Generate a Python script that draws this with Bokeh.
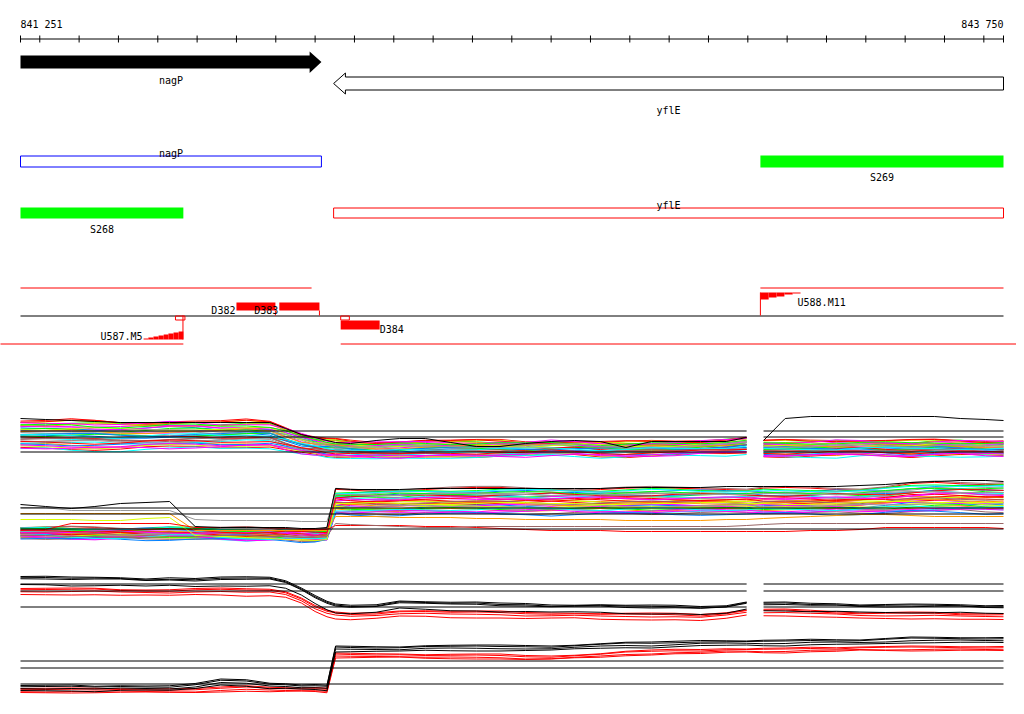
from bokeh.plotting import figure
from bokeh.models import Range1d
from bokeh.core.properties import value
from bokeh.embed import file_html
from bokeh.resources import INLINE

FONT = value("DejaVu Sans Mono")
FS = "10px"

# ---------------- data ----------------
SEQ_START, SEQ_END = 841251, 843750
RULER_TICKS = [841300 + 100 * i for i in range(25)]
RULER_LABELS = ["841 251", "843 750"]

GENE_NAMES = ["nagP", "yflE"]
GENE_START = [841251, 842047]
GENE_END = [842016, 843750]
GENE_STRAND = [1, -1]

BOX_NAMES = ["nagP", "S269", "S268", "yflE"]
BOX_START = [841251, 843132, 841251, 842047]
BOX_END = [842016, 843750, 841665, 843750]

SPAN_A_START = [841251, 843132]     # red line above the strand line
SPAN_A_END = [841991, 843750]
SPAN_B_START = [841150, 842065]     # red line below
SPAN_B_END = [841665, 843900]

D_NAMES = ["D382", "D383", "D384"]
D_START = [841800, 841909, 842065]
D_END = [841899, 842011, 842164]
D_STRAND = [1, 1, -1]

U_NAMES = ["U587.M5", "U588.M11"]
U587_STEP_X = [841564, 841576, 841589, 841602, 841615, 841627, 841640, 841653, 841665]
U587_STEP_H = [1, 2, 3, 4, 5, 6, 7, 8]
U588_STEP_X = [843132, 843153, 843173, 843193, 843214, 843234]
U588_STEP_H = [7, 5, 4, 2, 1]

PROBE_X = [841251, 841315, 841380, 841440, 841505, 841570, 841630, 841695, 841760, 841825,
           841885, 841925, 841965, 842000, 842030, 842052, 842090, 842155, 842215, 842280,
           842345, 842410, 842470, 842535, 842600, 842660, 842725, 842790, 842855, 842915,
           842980, 843045, 843097, 843140, 843195, 843260, 843325, 843385, 843450, 843515,
           843575, 843640, 843705, 843750]
GAP_START, GAP_END = 843097, 843140

# panel 1 (colored samples)
TOP1 = [4.0, 4.0, 4.1, 4.0, 3.9, 3.9, 4.0, 4.0, 3.9, 4.0, 3.9, 3.4, 2.8, 2.4, 2.2, 2.1, 2.0, 1.9, 2.0, 2.1,
        2.0, 2.0, 2.0, 1.9, 2.0, 2.0, 1.9, 1.9, 1.9, 1.9, 2.0, 2.2, 2.4, 2.0, 2.0, 2.0, 2.1, 2.1, 2.0, 2.0,
        2.1, 2.1, 2.0, 2.0]
BOT1 = [1.0, 1.0, 0.9, 0.9, 0.9, 1.0, 1.0, 1.1, 1.1, 1.2, 1.2, 0.8, 0.5, 0.4, 0.3, 0.3, 0.2, 0.1, 0.1, 0.2,
        0.3, 0.3, 0.3, 0.3, 0.4, 0.4, 0.3, 0.3, 0.4, 0.4, 0.5, 0.5, 0.6, 0.3, 0.3, 0.3, 0.3, 0.4, 0.4, 0.3,
        0.4, 0.4, 0.3, 0.3]
P1_BLACK = [4.2, 4.1, 4.0, 3.9, 3.8, 3.8, 3.8, 3.8, 3.8, 3.8, 3.8, 3.2, 2.6, 2.3, 2.0, 1.8, 1.7, 2.0, 2.2, 2.2,
            1.8, 1.4, 1.4, 1.7, 1.9, 2.0, 1.9, 1.3, 1.9, 1.9, 1.9, 1.9, 2.3, 2.0, 4.2, 4.4, 4.4, 4.4, 4.4, 4.4,
            4.4, 4.2, 4.1, 4.0]
REF1 = [2.95, 2.35, 0.85]

# panel 2 (colored samples)
TOP2 = [1.8, 1.8, 1.8, 1.8, 1.8, 1.8, 1.8, 1.8, 1.7, 1.7, 1.7, 1.7, 1.6, 1.6, 1.7, 5.6, 5.6, 5.6, 5.7, 5.8,
        5.8, 5.8, 5.8, 5.8, 5.8, 5.8, 5.8, 5.8, 5.8, 5.8, 5.8, 5.8, 5.8, 5.8, 5.8, 5.8, 5.8, 5.8, 5.9, 6.2,
        6.4, 6.4, 6.3, 6.3]
BOT2 = [0.7, 0.7, 0.6, 0.6, 0.6, 0.6, 0.7, 0.7, 0.6, 0.5, 0.5, 0.5, 0.4, 0.4, 0.5, 3.1, 3.0, 3.0, 3.0, 3.1,
        3.1, 3.1, 3.1, 3.1, 3.1, 3.1, 3.1, 3.1, 3.1, 3.1, 3.1, 3.1, 3.1, 3.1, 3.1, 3.1, 3.1, 3.1, 3.2, 3.3,
        3.3, 3.3, 3.2, 3.2]
P2_BLACK = [4.1, 3.9, 3.7, 3.9, 4.2, 4.3, 4.4, 1.9, 1.8, 1.8, 1.8, 1.8, 1.7, 1.7, 1.8, 5.7, 5.6, 5.6, 5.6, 5.7,
            5.7, 5.7, 5.7, 5.7, 5.7, 5.7, 5.7, 5.8, 5.8, 5.8, 5.8, 5.9, 5.9, 5.9, 5.9, 5.9, 5.9, 6.0, 6.1, 6.3,
            6.4, 6.5, 6.5, 6.4]
P2_GRAY = [3.8, 3.8, 3.5, 3.5, 3.5, 3.5, 3.5, 2.6, 2.5, 2.5, 2.5, 2.5, 2.4, 2.4, 2.4, 5.1, 5.1, 5.0, 5.0, 5.1,
           5.2, 5.2, 5.1, 5.1, 5.0, 5.0, 5.1, 5.1, 5.2, 5.2, 5.1, 5.1, 5.1, 5.2, 5.2, 5.1, 5.1, 5.2, 5.3, 5.4,
           5.4, 5.3, 5.3, 5.3]
P2_ORANGE = [3.2, 3.2, 3.2, 3.2, 3.2, 3.2, 3.2, 1.5, 1.5, 1.5, 1.5, 1.5, 1.5, 1.5, 1.5, 2.9, 2.9, 2.9, 2.8, 2.8,
             2.8, 2.7, 2.7, 2.6, 2.6, 2.6, 2.6, 2.5, 2.5, 2.5, 2.5, 2.6, 2.6, 2.7, 2.8, 2.9, 3.0, 3.1, 3.1, 3.0,
             2.9, 2.9, 2.9, 2.9]
P2_YELLOW = [2.6, 2.6, 2.6, 2.5, 2.5, 2.7, 2.8, 1.0, 0.9, 0.8, 0.7, 0.6, 0.6, 0.5, 0.6, 4.2, 4.2, 4.3, 4.2, 4.1,
             4.1, 4.2, 4.3, 4.3, 4.2, 4.2, 4.1, 4.1, 4.2, 4.2, 4.3, 4.3, 4.2, 4.2, 4.1, 4.1, 4.2, 4.3, 4.4, 4.4,
             4.3, 4.3, 4.3, 4.3]
P2_RED = [1.5, 1.6, 2.2, 2.2, 2.2, 2.2, 2.2, 1.8, 1.8, 1.8, 1.8, 1.7, 1.6, 1.6, 1.6, 2.0, 2.0, 2.0, 2.0, 1.9,
          1.9, 1.8, 1.7, 1.6, 1.5, 1.5, 1.5, 1.4, 1.4, 1.4, 1.4, 1.4, 1.4, 1.4, 1.4, 1.5, 1.5, 1.6, 1.8, 1.8,
          1.8, 1.8, 1.8, 1.7]
P2_BROWN = [1.0, 1.0, 0.9, 0.9, 0.8, 0.8, 0.9, 0.9, 1.0, 1.0, 0.9, 0.9, 0.8, 0.8, 0.9, 2.2, 2.1, 2.0, 1.9, 1.8,
            1.8, 1.9, 1.9, 1.9, 1.9, 1.9, 1.9, 1.9, 1.9, 1.9, 1.9, 1.9, 2.0, 2.1, 2.2, 2.2, 2.2, 2.2, 2.2, 2.2,
            2.2, 2.2, 2.2, 2.2]
REF2 = [3.75, 3.15, 1.65]

# panel 3 (black / red)
B3 = [4.8, 4.8, 4.7, 4.7, 4.7, 4.6, 4.7, 4.6, 4.7, 4.7, 4.7, 4.4, 3.7, 2.9, 2.3, 2.0, 1.9, 2.0, 2.4, 2.3,
      2.2, 2.2, 2.1, 2.1, 2.0, 2.0, 2.0, 1.9, 1.9, 1.9, 1.8, 1.9, 2.3, 2.2, 2.2, 2.1, 2.1, 2.0, 2.0, 2.0,
      2.0, 2.0, 1.9, 1.9]
R3 = [3.6, 3.6, 3.6, 3.6, 3.5, 3.5, 3.5, 3.6, 3.6, 3.5, 3.5, 3.3, 2.7, 1.9, 1.4, 1.2, 1.1, 1.2, 1.4, 1.4,
      1.3, 1.3, 1.3, 1.2, 1.2, 1.2, 1.1, 1.1, 1.1, 1.1, 1.0, 1.2, 1.5, 1.5, 1.5, 1.4, 1.3, 1.2, 1.2, 1.2,
      1.2, 1.1, 1.1, 1.1]
P3_BLACK_OFFSETS = [0.1, 0.0, -0.1, -0.7]
P3_RED_OFFSETS = [0.1, 0.0, -0.2, -0.5]
REF3 = [4.15, 3.45, 1.85]

# panel 4 (black / red)
B4 = [0.9, 0.9, 0.9, 0.8, 0.9, 0.9, 0.9, 1.1, 1.5, 1.4, 1.1, 1.1, 1.0, 1.0, 0.9, 4.8, 4.8, 4.8, 4.8, 4.9,
      4.9, 4.9, 4.9, 4.9, 4.9, 5.0, 5.1, 5.2, 5.2, 5.3, 5.4, 5.4, 5.4, 5.4, 5.4, 5.5, 5.5, 5.5, 5.6, 5.7,
      5.7, 5.7, 5.7, 5.7]
R4 = [0.6, 0.6, 0.6, 0.6, 0.6, 0.6, 0.6, 0.6, 0.7, 0.8, 0.7, 0.7, 0.7, 0.7, 0.6, 4.1, 4.1, 4.1, 4.1, 4.0,
      4.0, 4.0, 4.0, 3.9, 3.9, 4.0, 4.1, 4.3, 4.4, 4.5, 4.5, 4.6, 4.6, 4.6, 4.6, 4.7, 4.7, 4.8, 4.8, 4.8,
      4.8, 4.8, 4.8, 4.8]
P4_BLACK_OFFSETS = [0.1, 0.0, -0.2, -0.4]
P4_RED_OFFSETS = [0.1, 0.0, -0.2, -0.3]
REF4 = [3.45, 2.75, 1.15]

# per-sample variation patterns
W_A = [0, 0.1, 0.2, 0.1, -0.1, -0.2, -0.1, 0, 0.2, 0.3, 0.1, -0.1, -0.2, 0, 0.1, 0.2, 0.1, -0.1, -0.2, -0.1,
       0.1, 0.2, 0.2, 0, -0.2, -0.3, -0.1, 0.1, 0.2, 0.1, 0, -0.1, -0.2, 0.1, 0.2, 0.1, -0.1, -0.2, 0, 0.2,
       0.1, -0.1, -0.1, 0]
W_B = [0.1, 0, -0.1, -0.2, 0, 0.2, 0.3, 0.1, -0.1, -0.2, -0.1, 0.1, 0.2, 0.1, -0.1, -0.2, 0, 0.2, 0.1, 0,
       -0.1, -0.2, 0, 0.1, 0.3, 0.1, -0.1, -0.2, -0.1, 0.1, 0.2, 0.1, 0, -0.1, -0.2, 0, 0.2, 0.1, -0.1, -0.2,
       -0.1, 0.1, 0.2, 0.1]
W_C = [-0.1, -0.2, 0, 0.2, 0.2, 0, -0.2, -0.2, 0, 0.1, 0.2, 0, -0.1, -0.1, 0.1, 0.2, 0.1, 0, -0.1, 0.1,
       0.2, 0.1, -0.1, -0.2, -0.1, 0.1, 0.2, 0, -0.2, -0.1, 0.1, 0.2, 0.1, -0.1, 0, 0.1, 0.2, 0, -0.2, -0.1,
       0.1, 0.2, 0, -0.1]
WIGGLES = [W_A, W_B, W_C]

SAMPLE_COLORS = ["#ff0000", "#ff00ff", "#00ff00", "#00ffff", "#0080ff", "#ff9900", "#ccff00", "#999999",
                 "#996666", "#ff00ff", "#ff0000", "#00ff00", "#0080ff", "#00ffff", "#ff9900", "#999999",
                 "#ccff00", "#ff00ff", "#996666", "#ff0000", "#00ff00", "#0080ff", "#ff00ff", "#00ffff",
                 "#ff9900", "#999999", "#ccff00", "#ff0000", "#ff00ff", "#00ff00", "#996666", "#0080ff",
                 "#ff00ff", "#999999", "#ff0000", "#00ffff"]
F1 = [0.02, 0.35, 0.12, 0.58, 0.27, 0.81, 0.07, 0.44, 0.66, 0.19, 0.92, 0.31, 0.53, 0.74, 0.15, 0.40, 0.87, 0.23,
      0.61, 0.04, 0.49, 0.78, 0.10, 0.96, 0.37, 0.69, 0.28, 0.55, 0.84, 0.17, 0.63, 0.46, 0.90, 0.33, 0.72, 0.50]
F2 = [0.05, 0.62, 0.30, 0.88, 0.14, 0.47, 0.75, 0.22, 0.95, 0.39, 0.58, 0.09, 0.70, 0.33, 0.83, 0.18, 0.52, 0.66,
      0.01, 0.43, 0.79, 0.26, 0.91, 0.12, 0.60, 0.36, 0.72, 0.48, 0.85, 0.20, 0.55, 0.98, 0.40, 0.68, 0.28, 0.80]

for arr in [TOP1, BOT1, P1_BLACK, TOP2, BOT2, P2_BLACK, P2_GRAY, P2_ORANGE, P2_YELLOW, P2_RED, P2_BROWN,
            B3, R3, B4, R4, W_A, W_B, W_C]:
    assert len(arr) == len(PROBE_X), len(arr)

# ---------------- layout ----------------
W, H = 1016, 706
ORIGIN = 0   # page pixel where the plot frame starts
PX_PER_BP = 983 / (SEQ_END - SEQ_START)
x0 = SEQ_START - (20 - ORIGIN) / PX_PER_BP
x1 = SEQ_START + (ORIGIN + W - 20) / PX_PER_BP

p = figure(width=W, height=H, x_range=Range1d(x0, x1), y_range=Range1d(ORIGIN + H, ORIGIN),
           output_backend="svg", toolbar_location=None, x_axis_type=None, y_axis_type=None,
           min_border=0)
p.outline_line_color = None
p.background_fill_color = "white"
p.border_fill_color = "white"

PANEL_BASE = [460, 545, 625, 695]   # pixel row of value 0 in each panel
PANEL_K = 10                         # pixels per unit
p.extra_y_ranges = {f"panel{i}": Range1d(start=(b - (ORIGIN + H)) / PANEL_K, end=(b - ORIGIN) / PANEL_K)
                    for i, b in enumerate(PANEL_BASE)}


def label(x, y, t, align, xo=0):
    p.text(x=[x], y=[y], text=[t], text_align=align, text_baseline="alphabetic", x_offset=xo,
           text_font=FONT, text_font_size=FS, text_color="black")


# ruler
p.segment(x0=[SEQ_START], y0=[38.5], x1=[SEQ_END], y1=[38.5], line_color="black", line_width=1)
tx = [SEQ_START] + RULER_TICKS + [SEQ_END]
p.segment(x0=tx, y0=[35] * len(tx), x1=tx, y1=[42] * len(tx), line_color="black", line_width=1)
label(SEQ_START, 24, RULER_LABELS[0], "left")
label(SEQ_END, 24, RULER_LABELS[1], "right")

# gene arrows
HEAD_BP = 30
GENE_ROW = {1: (55, 68, 51, 72.5, 80), -1: (76.5, 89.5, 72.5, 93.5, 110)}
for name, s, e, st in zip(GENE_NAMES, GENE_START, GENE_END, GENE_STRAND):
    yt, yb, ht, hb, ly = GENE_ROW[st]
    mid = (yt + yb) / 2
    if st == 1:
        xs = [s, e - HEAD_BP, e - HEAD_BP, e, e - HEAD_BP, e - HEAD_BP, s]
        p.patch(xs, [yt, yt, ht, mid, hb, yb, yb], fill_color="black", line_color=None)
    else:
        xs = [e, s + HEAD_BP, s + HEAD_BP, s, s + HEAD_BP, s + HEAD_BP, e]
        p.patch(xs, [yt, yt, ht, mid, hb, yb, yb], fill_color="white", line_color="black", line_width=1)
    label((s + e) / 2, ly, name, "center")

# boxes rows
BOX_STYLE = [  # top, bottom, fill, line, label_y
    (155.5, 166.5, None, "#0000ff", 153),
    (155, 167, "#00ff00", None, 177),
    (207, 218, "#00ff00", None, 228.5),
    (207.5, 217.5, None, "#ff0000", 204.5),
]
for name, s, e, (t, b, fc, lc, ly) in zip(BOX_NAMES, BOX_START, BOX_END, BOX_STYLE):
    p.quad(left=[s], right=[e], top=[t], bottom=[b], fill_color=fc if fc else "white",
           fill_alpha=1 if fc else 0, line_color=lc, line_width=1)
    label((s + e) / 2, ly, name, "center")

RED = "#ff0000"
# feature track lines
p.segment(x0=SPAN_A_START, y0=[287.5] * 2, x1=SPAN_A_END, y1=[287.5] * 2, line_color=RED, line_width=1)
p.segment(x0=SPAN_B_START, y0=[343.5] * 2, x1=SPAN_B_END, y1=[343.5] * 2, line_color=RED, line_width=1)
p.segment(x0=[SEQ_START], y0=[315.5], x1=[SEQ_END], y1=[315.5], line_color="black", line_width=1)

# D features
for name, s, e, st in zip(D_NAMES, D_START, D_END, D_STRAND):
    if st == 1:
        p.quad(left=[s], right=[e], top=[302], bottom=[310], fill_color=RED, line_color=None)
        p.segment(x0=[e], y0=[310], x1=[e], y1=[315], line_color=RED, line_width=1)
        label(s, 310, name, "right", xo=-1)
    else:
        p.quad(left=[s], right=[e], top=[320], bottom=[329], fill_color=RED, line_color=None)
        p.quad(left=[s], right=[s + 22], top=[315.5], bottom=[319.5], fill_alpha=0, line_color=RED,
               line_width=1)
        label(e, 328.5, name, "left")

# U587.M5 (lower strand, ramp rising to the right)
p.quad(left=U587_STEP_X[:-1], right=U587_STEP_X[1:], top=[339 - h for h in U587_STEP_H],
       bottom=[339] * len(U587_STEP_H), fill_color=RED, line_color=None)
p.segment(x0=[U587_STEP_X[-1] - 1], y0=[315], x1=[U587_STEP_X[-1] - 1], y1=[339], line_color=RED, line_width=1)
p.quad(left=[U587_STEP_X[-1] - 20], right=[U587_STEP_X[-1] + 4], top=[315.5], bottom=[319.5],
       fill_alpha=0, line_color=RED, line_width=1)
label(U587_STEP_X[0], 336, U_NAMES[0], "right", xo=-1)

# U588.M11 (upper strand, ramp falling to the right)
p.quad(left=U588_STEP_X[:-1], right=U588_STEP_X[1:], top=[292] * len(U588_STEP_H),
       bottom=[292 + h for h in U588_STEP_H], fill_color=RED, line_color=None)
p.segment(x0=[U588_STEP_X[0]], y0=[292], x1=[U588_STEP_X[0]], y1=[315], line_color=RED, line_width=1)
label(U588_STEP_X[-1], 301.5, U_NAMES[1], "left", xo=-3)

# ---------------- expression panels ----------------
GI = PROBE_X.index(GAP_END)


def parts(ys, gap):
    if gap:
        return [PROBE_X[:GI], PROBE_X[GI:]], [ys[:GI], ys[GI:]]
    return [PROBE_X], [ys]


def draw_lines(series, colors, rng, gap):
    xs_all, ys_all, cs = [], [], []
    for ys, c in zip(series, colors):
        xx, yy = parts(ys, gap)
        xs_all += xx
        ys_all += yy
        cs += [c] * len(xx)
    p.multi_line(xs=xs_all, ys=ys_all, line_color=cs, line_width=1, y_range_name=rng)


def draw_refs(refs, rng, gap):
    if gap:
        x0s, x1s = [SEQ_START, GAP_END], [GAP_START, SEQ_END]
    else:
        x0s, x1s = [SEQ_START], [SEQ_END]
    for r in refs:
        p.segment(x0=x0s, y0=[r] * len(x0s), x1=x1s, y1=[r] * len(x0s), line_color="black",
                  line_width=1, y_range_name=rng)


def band(top, bot, fracs):
    out = []
    for i, f in enumerate(fracs):
        w = WIGGLES[i % 3]
        sgn = 1 if i % 2 == 0 else -1
        out.append([t + f * (b - t) + sgn * 0.7 * wv for t, b, wv in zip(top, bot, w)])
    return out


def offsets(base, offs):
    out = []
    for i, o in enumerate(offs):
        w = WIGGLES[i % 3]
        sgn = 1 if i % 2 == 0 else -1
        out.append([v + o + sgn * 0.25 * wv for v, wv in zip(base, w)])
    return out


# panel 1
draw_lines(band(TOP1, BOT1, F1), SAMPLE_COLORS, "panel0", True)
draw_lines([P1_BLACK], ["black"], "panel0", True)
draw_refs(REF1, "panel0", True)

# panel 2
draw_lines(band(TOP2, BOT2, F2), SAMPLE_COLORS, "panel1", False)
draw_lines([P2_GRAY, P2_ORANGE, P2_YELLOW, P2_RED, P2_BROWN],
           ["#999999", "#ff9900", "#ddff00", "#ff0000", "#996666"], "panel1", False)
draw_lines([P2_BLACK], ["black"], "panel1", False)
draw_refs(REF2, "panel1", False)

# panel 3
draw_lines(offsets(R3, P3_RED_OFFSETS), [RED] * 4, "panel2", True)
draw_lines(offsets(B3, P3_BLACK_OFFSETS), ["black"] * 4, "panel2", True)
draw_refs(REF3, "panel2", True)

# panel 4
draw_lines(offsets(R4, P4_RED_OFFSETS), [RED] * 4, "panel3", False)
draw_lines(offsets(B4, P4_BLACK_OFFSETS), ["black"] * 4, "panel3", False)
draw_refs(REF4, "panel3", False)

open("out.html", "w").write(file_html(p, INLINE))
